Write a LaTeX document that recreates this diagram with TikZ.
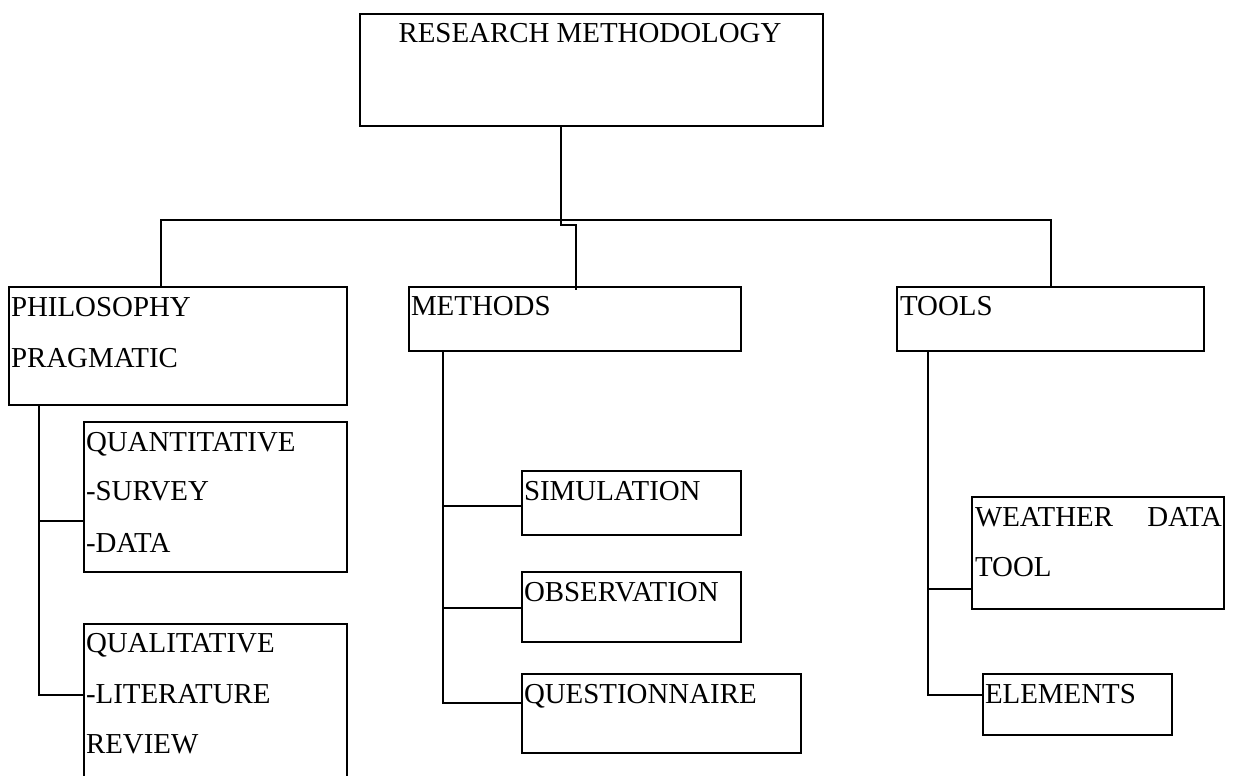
\documentclass[tikz,border=0pt]{standalone}
\usepackage{fontspec}
\setmainfont{Liberation Serif}
\newcommand\mybox[5]{\node[boxst,anchor=north west,minimum width=#4*0.5pt,minimum height=#5*0.5pt] (#1) at (#2,#3) {};}
\tikzset{
  boxst/.style={draw=black,line width=1pt,inner sep=0pt,outer sep=0pt,fill=none},
  lbl/.style={anchor=base west,inner sep=0pt,outer sep=0pt,font=\fontsize{14.45pt}{17pt}\selectfont},
  lblr/.style={lbl,anchor=base east},
  lblc/.style={lbl,anchor=base},
  conn/.style={draw=black,line width=1pt}
}
\begin{document}
\begin{tikzpicture}[x=0.5pt,y=-0.5pt]
\useasboundingbox (0,0) rectangle (1239,776);
\clip (0,0) rectangle (1239,776);
\fill[white] (0,0) rectangle (1239,776);
% boxes
\mybox{root}{360}{14}{463}{112}
\mybox{phil}{9}{287}{338}{118}
\mybox{meth}{409}{287}{332}{64}
\mybox{tools}{897}{287}{307}{64}
\mybox{quant}{84}{422}{263}{150}
\mybox{qual}{84}{624}{263}{170}
\mybox{sim}{522}{471}{219}{64}
\mybox{obs}{522}{572}{219}{70}
\mybox{ques}{522}{674}{279}{79}
\mybox{weather}{972}{497}{252}{112}
\mybox{elem}{983}{674}{189}{61}
% junction coordinates
\coordinate (j1) at (561,225);
\coordinate (j2) at (576,225);
\coordinate (busL) at (161,220);
\coordinate (busR) at (1051,220);
\coordinate (pa) at (39,521);
\coordinate (pb) at (39,695);
\coordinate (ma) at (443,506);
\coordinate (mb) at (443,608);
\coordinate (mc) at (443,703);
\coordinate (ta) at (928,589);
\coordinate (tb) at (928,695);
% connectors
\draw[conn] (root.south -| j1) -- (j1) -- (j2) -- ([yshift=-1.5pt]meth.north -| j2);
\draw[conn] (phil.north -| busL) -- (busL) -- (busR) -- (tools.north -| busR);
\draw[conn] (phil.south -| pb) -- (pb) -- (qual.west |- pb);
\draw[conn] (pa) -- (quant.west |- pa);
\draw[conn] (meth.south -| mc) -- (mc) -- (ques.west |- mc);
\draw[conn] (ma) -- (sim.west |- ma);
\draw[conn] (mb) -- (obs.west |- mb);
\draw[conn] (tools.south -| tb) -- (tb) -- (elem.west |- tb);
\draw[conn] (ta) -- (weather.west |- ta);
% texts
\node[lblc] (t1) at (590,42.5) {RESEARCH METHODOLOGY};
\node[lbl] (t2) at (11,316) {PHILOSOPHY};
\node[lbl] (t3) at (11,367) {PRAGMATIC};
\node[lbl] (t4) at (411,315) {METHODS};
\node[lbl] (t5) at (900,315) {TOOLS};
\node[lbl] (t6) at (86,451) {QUANTITATIVE};
\node[lbl] (t7) at (86,500.5) {-SURVEY};
\node[lbl] (t8) at (86,552) {-DATA};
\node[lbl] (t9) at (86,652) {QUALITATIVE};
\node[lbl] (t10) at (86,703) {-LITERATURE};
\node[lbl] (t11) at (86,753) {REVIEW};
\node[lbl] (t12) at (524,500) {SIMULATION};
\node[lbl] (t13) at (524,601) {OBSERVATION};
\node[lbl] (t14) at (524,703) {QUESTIONNAIRE};
\node[lbl] (t15) at (975,526) {WEATHER};
\node[lblr] (t16) at (1222,526) {DATA};
\node[lbl] (t17) at (975,576) {TOOL};
\node[lbl] (t18) at (985,703) {ELEMENTS};
\end{tikzpicture}
\end{document}
